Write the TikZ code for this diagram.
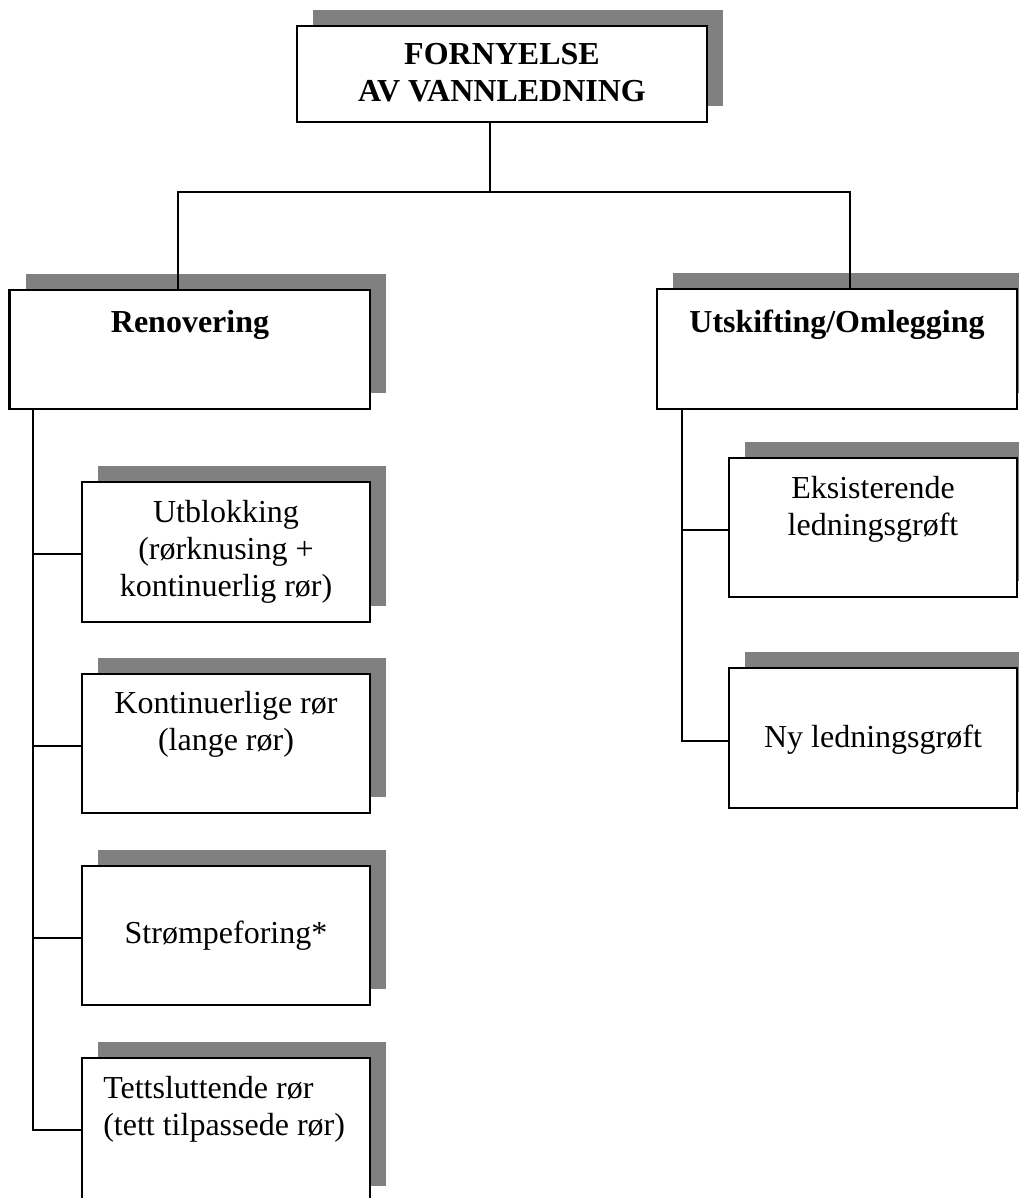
\documentclass[tikz,border=0pt]{standalone}
\usepackage{fontspec}
\setmainfont{Liberation Serif}
\usetikzlibrary{calc,fit,backgrounds}
\tikzset{
  box/.style={draw=black, line width=1.6pt, fill=white, rectangle, inner sep=0pt, outer sep=0pt},
  conn/.style={draw=black, line width=1.5pt},
  txt/.style={font=\fontsize{24pt}{27.75pt}\selectfont, align=center, anchor=base, inner sep=0pt},
  btxt/.style={txt, font=\fontsize{24pt}{27.75pt}\selectfont\bfseries},
  shade/.style={fill=gray}
}
\newcommand\shadowof[1]{\fill[shade] ($(#1.south west)+(16,-16)$) rectangle ($(#1.north east)+(16,-16)$);}
\begin{document}
\begin{tikzpicture}[x=0.75pt,y=-0.75pt]
\clip (0,0) rectangle (1019,1198);
% boxes
\node[box, fit={(297,26) (707,122)}] (top) {};
\node[box, fit={(9.5,290) (370,409)}] (ren) {};
\node[box, fit={(657,289) (1017,409)}] (uts) {};
\node[box, fit={(82,482) (370,622)}] (c1) {};
\node[box, fit={(82,674) (370,813)}] (c2) {};
\node[box, fit={(82,866) (370,1005)}] (c3) {};
\node[box, fit={(82,1058) (370,1202)}] (c4) {};
\node[box, fit={(729,458) (1017,597)}] (r1) {};
\node[box, fit={(729,668) (1017,808)}] (r2) {};
% shadows
\begin{scope}[on background layer]
\fill[white] (0,0) rectangle (1019,1198);
\foreach \b in {top,ren,uts,c1,c2,c3,c4,r1,r2}{\shadowof{\b}}
\end{scope}
% texts (anchor base = baseline of last line)
\node[btxt] (ttop) at (502,102) {FORNYELSE\\AV VANNLEDNING};
\node[btxt] (tren) at (190,332) {Renovering};
\node[btxt] (tuts) at (837,332) {Utskifting/Omlegging};
\node[txt] (tc1) at (226,596) {Utblokking\\(rørknusing +\\kontinuerlig rør)};
\node[txt] (tc2) at (226,750) {Kontinuerlige rør\\(lange rør)};
\node[txt] (tc3) at (226,943) {Strømpeforing*};
\node[txt, anchor=base west, align=left] (tc4) at (103,1135) {Tettsluttende rør\\(tett tilpassede rør)};
\node[txt] (tr1) at (873,535) {Eksisterende\\ledningsgrøft};
\node[txt] (tr2) at (873,747) {Ny ledningsgrøft};
% connectors
\draw[conn] ($(top.south)+(-12,0)$) -- ++(0,70) coordinate (j);
\draw[conn] ($(ren.north)+(-12,0)$) |- (j) -| ($(uts.north)+(13,0)$);
\coordinate (lb) at ($(ren.south west)+(23.5,0)$);
\draw[conn] (lb) |- (c4.west);
\foreach \c in {c1,c2,c3}{\draw[conn] ($(\c.west -| lb)+(0,2)$) -- ($(\c.west)+(0,2)$);}
\coordinate (rb) at ($(uts.south west)+(25,0)$);
\draw[conn] (rb) |- ($(r2.west)+(0,2.5)$);
\draw[conn] ($(r1.west -| rb)+(0,2.5)$) -- ($(r1.west)+(0,2.5)$);
\end{tikzpicture}
\end{document}
